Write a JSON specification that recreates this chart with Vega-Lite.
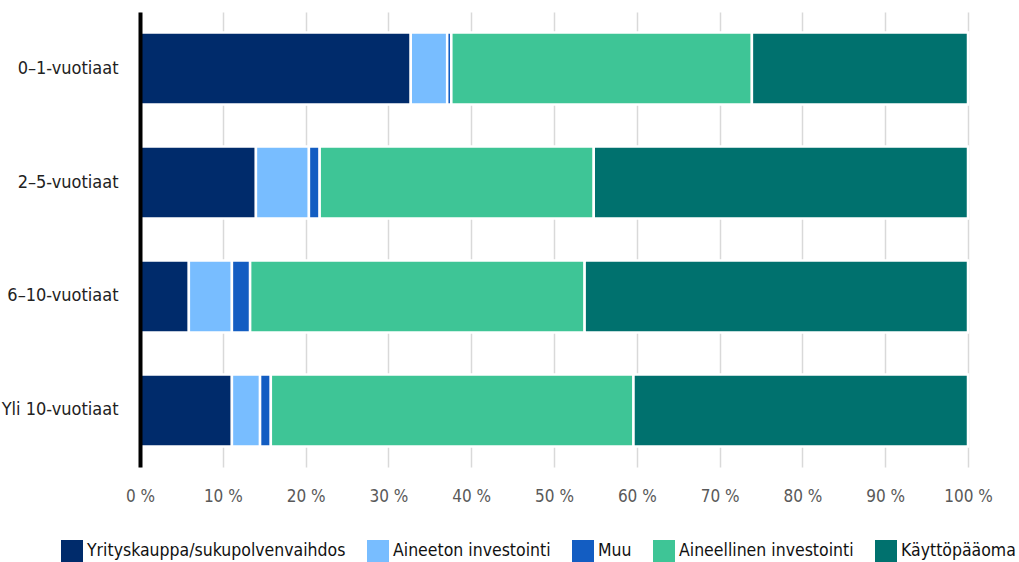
{
  "$schema": "https://vega.github.io/schema/vega-lite/v6.json",
  "width": 828,
  "height": 455,
  "autosize": {"type": "none"},
  "padding": {"left": 140, "top": 12, "right": 51, "bottom": 95},
  "background": "white",
  "config": {
    "view": {"stroke": null},
    "font": "DejaVu Sans Condensed",
    "axis": {"labelFont": "DejaVu Sans Condensed", "labelFontSize": 17},
    "legend": {"labelFont": "DejaVu Sans Condensed", "labelFontSize": 17.5}
  },
  "data": {
    "values": [
      {"ika": "0–1-vuotiaat", "kohde": "Yrityskauppa/sukupolvenvaihdos", "jarj": 1, "osuus": 32.7},
      {"ika": "0–1-vuotiaat", "kohde": "Aineeton investointi", "jarj": 2, "osuus": 4.4},
      {"ika": "0–1-vuotiaat", "kohde": "Muu", "jarj": 3, "osuus": 0.5},
      {"ika": "0–1-vuotiaat", "kohde": "Aineellinen investointi", "jarj": 4, "osuus": 36.3},
      {"ika": "0–1-vuotiaat", "kohde": "Käyttöpääoma", "jarj": 5, "osuus": 26.1},
      {"ika": "2–5-vuotiaat", "kohde": "Yrityskauppa/sukupolvenvaihdos", "jarj": 1, "osuus": 14.0},
      {"ika": "2–5-vuotiaat", "kohde": "Aineeton investointi", "jarj": 2, "osuus": 6.4},
      {"ika": "2–5-vuotiaat", "kohde": "Muu", "jarj": 3, "osuus": 1.3},
      {"ika": "2–5-vuotiaat", "kohde": "Aineellinen investointi", "jarj": 4, "osuus": 33.1},
      {"ika": "2–5-vuotiaat", "kohde": "Käyttöpääoma", "jarj": 5, "osuus": 45.2},
      {"ika": "6–10-vuotiaat", "kohde": "Yrityskauppa/sukupolvenvaihdos", "jarj": 1, "osuus": 5.9},
      {"ika": "6–10-vuotiaat", "kohde": "Aineeton investointi", "jarj": 2, "osuus": 5.2},
      {"ika": "6–10-vuotiaat", "kohde": "Muu", "jarj": 3, "osuus": 2.2},
      {"ika": "6–10-vuotiaat", "kohde": "Aineellinen investointi", "jarj": 4, "osuus": 40.4},
      {"ika": "6–10-vuotiaat", "kohde": "Käyttöpääoma", "jarj": 5, "osuus": 46.3},
      {"ika": "Yli 10-vuotiaat", "kohde": "Yrityskauppa/sukupolvenvaihdos", "jarj": 1, "osuus": 11.1},
      {"ika": "Yli 10-vuotiaat", "kohde": "Aineeton investointi", "jarj": 2, "osuus": 3.4},
      {"ika": "Yli 10-vuotiaat", "kohde": "Muu", "jarj": 3, "osuus": 1.3},
      {"ika": "Yli 10-vuotiaat", "kohde": "Aineellinen investointi", "jarj": 4, "osuus": 43.8},
      {"ika": "Yli 10-vuotiaat", "kohde": "Käyttöpääoma", "jarj": 5, "osuus": 40.4}
    ]
  },
  "mark": {"type": "bar", "stroke": "white", "strokeWidth": 2.5},
  "encoding": {
    "y": {
      "field": "ika",
      "type": "nominal",
      "sort": null,
      "title": null,
      "scale": {"paddingInner": 0.368, "paddingOuter": 0.18},
      "axis": {
        "domain": true,
        "domainColor": "black",
        "domainWidth": 4,
        "ticks": false,
        "grid": false,
        "labelColor": "#222222",
        "labelFontSize": 18,
        "labelPadding": 22,
        "zindex": 1
      }
    },
    "x": {
      "field": "osuus",
      "type": "quantitative",
      "stack": "normalize",
      "title": null,
      "scale": {"domain": [0, 1]},
      "axis": {
        "values": [0, 0.1, 0.2, 0.3, 0.4, 0.5, 0.6, 0.7, 0.8, 0.9, 1],
        "labelExpr": "round(datum.value * 100) + ' %'",
        "domain": false,
        "ticks": false,
        "grid": true,
        "gridColor": "#d9d9d9",
        "gridWidth": 1.5,
        "labelColor": "#595959",
        "labelPadding": 21,
        "labelFlush": false,
        "zindex": 0
      }
    },
    "color": {
      "field": "kohde",
      "type": "nominal",
      "title": null,
      "sort": ["Yrityskauppa/sukupolvenvaihdos", "Aineeton investointi", "Muu", "Aineellinen investointi", "Käyttöpääoma"],
      "scale": {
        "domain": ["Yrityskauppa/sukupolvenvaihdos", "Aineeton investointi", "Muu", "Aineellinen investointi", "Käyttöpääoma"],
        "range": ["#002b6b", "#78bdff", "#135dc2", "#3ec596", "#00716e"]
      },
      "legend": {
        "orient": "none",
        "legendX": -79,
        "legendY": 528,
        "direction": "horizontal",
        "columns": 5,
        "symbolType": "square",
        "symbolSize": 484,
        "symbolStrokeWidth": 0,
        "symbolOpacity": 1,
        "labelOffset": 4,
        "columnPadding": 21,
        "labelColor": "#111111",
        "labelLimit": 400
      }
    },
    "order": {"field": "jarj", "type": "quantitative"}
  }
}
